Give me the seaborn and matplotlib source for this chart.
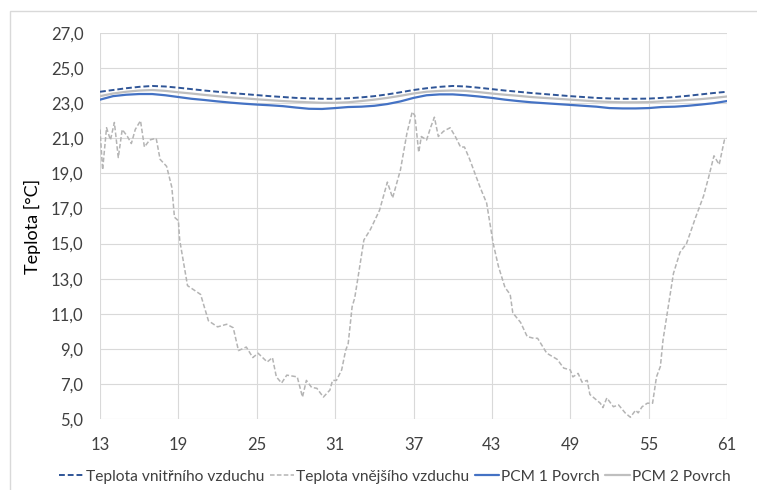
import numpy as np
import pandas as pd
import matplotlib
matplotlib.use("Agg")
import matplotlib.pyplot as plt
from matplotlib.patches import Rectangle
import seaborn as sns

# hours (x axis) for the smooth indoor / surface series
hours = list(range(13, 62))

indoor_air = [23.65, 23.75, 23.85, 23.93, 23.98, 23.95, 23.88, 23.80, 23.72, 23.65,
              23.58, 23.52, 23.46, 23.40, 23.35, 23.30, 23.27, 23.25, 23.25, 23.28,
              23.33, 23.40, 23.50, 23.62, 23.75, 23.85, 23.93, 23.98, 23.95, 23.88,
              23.80, 23.72, 23.65, 23.58, 23.52, 23.46, 23.40, 23.35, 23.30, 23.27,
              23.25, 23.25, 23.26, 23.30, 23.35, 23.42, 23.50, 23.58, 23.65]

pcm1_surface = [23.20, 23.40, 23.48, 23.52, 23.52, 23.45, 23.35, 23.25, 23.18, 23.10,
                23.03, 22.97, 22.92, 22.88, 22.83, 22.75, 22.68, 22.67, 22.72, 22.78,
                22.80, 22.85, 22.95, 23.10, 23.30, 23.45, 23.50, 23.50, 23.45, 23.38,
                23.30, 23.20, 23.12, 23.05, 23.00, 22.95, 22.90, 22.85, 22.80, 22.72,
                22.70, 22.70, 22.72, 22.78, 22.80, 22.85, 22.92, 23.00, 23.12]

pcm2_surface = [23.40, 23.55, 23.65, 23.72, 23.75, 23.70, 23.62, 23.55, 23.47, 23.40,
                23.33, 23.28, 23.22, 23.17, 23.12, 23.08, 23.05, 23.02, 23.02, 23.05,
                23.12, 23.20, 23.30, 23.42, 23.55, 23.65, 23.70, 23.72, 23.70, 23.63,
                23.55, 23.48, 23.42, 23.35, 23.30, 23.25, 23.20, 23.15, 23.10, 23.07,
                23.05, 23.05, 23.06, 23.10, 23.13, 23.18, 23.23, 23.30, 23.38]

# outdoor air at irregular times
outdoor_hours = [13.0, 13.2, 13.5, 13.8, 14.1, 14.4, 14.7, 15.1, 15.4, 15.7, 16.1, 16.4,
                 16.8, 17.3, 17.6, 18.1, 18.5, 18.7, 19.0, 19.1, 19.7, 20.7, 20.9, 21.3,
                 22.0, 22.7, 23.2, 23.6, 24.2, 24.7, 25.1, 25.8, 26.2, 26.5, 26.9, 27.3,
                 28.1, 28.5, 28.8, 29.2, 29.6, 30.1, 30.6, 30.8, 31.1, 31.5, 31.8, 32.0,
                 32.3, 32.5, 32.8, 33.2, 33.7, 34.4, 35.0, 35.4, 36.0, 36.5, 36.9, 37.1,
                 37.4, 37.6, 38.0, 38.3, 38.6, 38.9, 39.3, 39.8, 40.2, 40.6, 40.9, 41.3,
                 42.1, 42.6, 43.1, 43.5, 44.0, 44.4, 44.6, 45.2, 45.7, 46.2, 46.5, 47.2,
                 48.0, 48.5, 49.0, 49.2, 49.6, 49.9, 50.3, 50.5, 51.3, 51.5, 51.8, 52.3,
                 52.7, 53.2, 53.6, 54.0, 54.2, 54.5, 54.9, 55.3, 55.6, 55.9, 56.1, 56.5,
                 56.9, 57.4, 57.9, 58.6, 59.2, 59.6, 60.0, 60.4, 60.8, 61.0]
outdoor_air = [21.5, 19.2, 21.6, 20.9, 21.9, 19.9, 21.5, 21.1, 20.7, 21.5, 22.0, 20.5,
               20.9, 21.0, 19.8, 19.4, 18.2, 16.5, 16.3, 15.2, 12.6, 12.1, 11.6, 10.6,
               10.25, 10.4, 10.2, 8.9, 9.1, 8.5, 8.75, 8.25, 8.5, 7.4, 7.05, 7.5,
               7.4, 6.25, 7.2, 6.8, 6.75, 6.25, 6.65, 7.2, 7.2, 7.8, 8.9, 9.3,
               11.4, 11.9, 13.3, 15.2, 15.8, 16.9, 18.5, 17.6, 19.2, 21.3, 22.5, 22.3,
               20.2, 21.1, 20.9, 21.6, 22.2, 21.1, 21.4, 21.6, 21.1, 20.5, 20.5, 19.8,
               18.2, 17.3, 15.0, 13.7, 12.5, 12.1, 11.05, 10.5, 9.7, 9.6, 9.6, 8.75,
               8.4, 7.9, 7.8, 7.4, 7.6, 7.1, 7.2, 6.4, 5.9, 5.65, 6.2, 5.7,
               5.8, 5.35, 5.1, 5.5, 5.35, 5.7, 5.9, 5.9, 7.4, 8.0, 9.5, 11.4,
               13.3, 14.5, 15.0, 16.5, 17.7, 18.8, 20.0, 19.5, 20.9, 21.0]

x_ticks = list(range(13, 62, 6))
y_ticks = list(range(5, 28, 2))
y_tick_labels = [f"{v},0" for v in y_ticks]

smooth_df = pd.DataFrame({"hod": hours, "vnitrni": indoor_air,
                          "pcm1": pcm1_surface, "pcm2": pcm2_surface})
out_df = pd.DataFrame({"hod": outdoor_hours, "vnejsi": outdoor_air})

sns.set_style("white")
plt.rcParams["font.family"] = ["Lato", "DejaVu Sans"]

fig = plt.figure(figsize=(7.57, 4.90), dpi=100)
ax = fig.add_axes([0.1321, 0.1449, 0.8283, 0.7878])

# light frame round the whole chart, like the Excel chart area
fig.patches.append(Rectangle((10 / 757, -0.05), 1.0, 1 - 11 / 490 + 0.05,
                             transform=fig.transFigure, fill=False,
                             edgecolor="#d9d9d9", linewidth=1.0))

sns.lineplot(data=smooth_df, x="hod", y="vnitrni", ax=ax, color="#2f5597",
             linewidth=1.4, label="Teplota vnitřního vzduchu")
ax.lines[-1].set_dashes([3, 1.5])
sns.lineplot(data=out_df, x="hod", y="vnejsi", ax=ax, color="#b4b4b4",
             linewidth=1.1, label="Teplota vnějšího vzduchu")
ax.lines[-1].set_dashes([3, 1.5])
sns.lineplot(data=smooth_df, x="hod", y="pcm1", ax=ax, color="#4472c4",
             linewidth=1.6, label="PCM 1 Povrch")
sns.lineplot(data=smooth_df, x="hod", y="pcm2", ax=ax, color="#bfbfbf",
             linewidth=1.6, label="PCM 2 Povrch")

ax.set_xlim(13, 61)
ax.set_ylim(5, 27)
ax.set_xticks(x_ticks)
ax.set_yticks(y_ticks)
ax.set_yticklabels(y_tick_labels)
ax.grid(True, color="#d9d9d9", linewidth=0.8)
for s in ax.spines.values():
    s.set_visible(False)
ax.tick_params(axis="both", length=0, labelsize=12, colors="#404040")
ax.tick_params(axis="y", pad=12)
ax.tick_params(axis="x", pad=13)
ax.set_xlabel("")
ax.set_ylabel("Teplota [°C]", fontsize=13, color="#000000", labelpad=7)

ax.legend(loc="upper center", bbox_to_anchor=(0.47, -0.095), ncol=4, frameon=False,
          fontsize=11.2, handlelength=1.6, handletextpad=0.1, columnspacing=0.35,
          labelcolor="#404040")

fig.savefig("out.png", dpi=100)
